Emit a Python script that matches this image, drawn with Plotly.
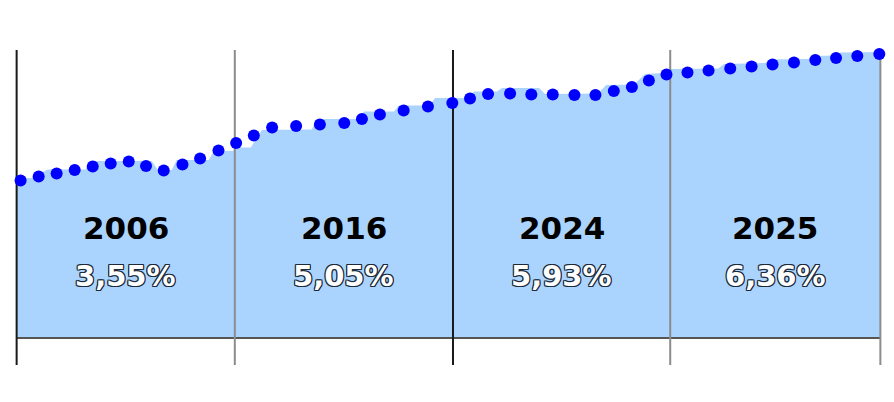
import plotly.graph_objects as go

# Dotted series (position on a 0-100 timeline, value)
dot_x = [0.46, 2.55, 4.63, 6.72, 8.81, 10.89, 12.98, 14.98, 17.03, 19.20, 21.24, 23.37,
         25.41, 27.46, 29.58, 32.36, 35.11, 37.93, 39.98, 42.06, 44.81, 47.62,
         50.44, 52.49, 54.58, 57.13, 59.59, 62.07, 64.58, 67.01, 69.14, 71.23, 73.20,
         75.24, 77.67, 80.11, 82.62, 85.09, 87.52, 90.00, 92.47, 94.87, 97.33, 99.88]
dot_y = [3.15, 3.23, 3.29, 3.36, 3.43, 3.49, 3.53, 3.44, 3.35, 3.47, 3.59, 3.75,
         3.90, 4.05, 4.21, 4.24, 4.27, 4.30, 4.38, 4.47, 4.55, 4.63,
         4.70, 4.79, 4.88, 4.89, 4.87, 4.87, 4.86, 4.86, 4.94, 5.02, 5.15,
         5.27, 5.31, 5.35, 5.39, 5.43, 5.47, 5.51, 5.56, 5.60, 5.64, 5.68]

# Filled area series
area_x = [0, 1.74, 3.59, 8.00, 8.46, 15.64, 16.34, 17.96, 18.54, 22.25, 22.83, 25.03,
          25.38, 27.11, 28.39, 34.18, 34.76, 39.63, 40.21, 43.68, 44.26, 47.86, 48.44,
          52.26, 52.95, 55.62, 56.20, 60.49, 61.18, 67.32, 68.25, 71.49, 72.77, 74.97,
          75.78, 81.23, 81.92, 86.67, 87.25, 91.66, 92.24, 94.90, 95.36, 100]
area_y = [3.20, 3.20, 3.37, 3.37, 3.54, 3.54, 3.36, 3.36, 3.56, 3.56, 3.74, 3.74,
          3.81, 3.81, 4.16, 4.17, 4.38, 4.38, 4.53, 4.53, 4.65, 4.65, 4.80,
          4.80, 4.93, 4.93, 5.00, 5.00, 4.88, 4.89, 5.06, 5.07, 5.28, 5.30,
          5.38, 5.39, 5.48, 5.50, 5.57, 5.58, 5.64, 5.65, 5.71, 5.72]

boundaries = [0, 25.26, 50.52, 75.67, 100]
boundary_colors = ["#1a1a1a", "#8c8c8c", "#1a1a1a", "#8c8c8c", "#8c8c8c"]
years = ["2006", "2016", "2024", "2025"]
rates = ["3,55%", "5,05%", "5,93%", "6,36%"]

fig = go.Figure()

fig.add_trace(go.Scatter(x=area_x, y=area_y, mode="lines", fill="tozeroy",
                         fillcolor="#aad4fe", line=dict(width=0, color="#aad4fe"),
                         hoverinfo="skip"))

fig.add_trace(go.Scatter(x=[boundaries[0], boundaries[-1]], y=[0, 0], mode="lines",
                         line=dict(color="#555555", width=2), hoverinfo="skip"))

for b, c in zip(boundaries, boundary_colors):
    fig.add_trace(go.Scatter(x=[b, b], y=[5.76, -0.54], mode="lines",
                             line=dict(color=c, width=2), hoverinfo="skip"))

fig.add_trace(go.Scatter(x=dot_x, y=dot_y, mode="markers",
                         marker=dict(color="#0000ff", size=12, line=dict(width=0)),
                         cliponaxis=False, hoverinfo="skip"))

oc = "#1c2a3a"
outline = ", ".join(f"{dx}px {dy}px 0 {oc}" for dx, dy in
                    [(-1, -1), (1, -1), (-1, 1), (1, 1), (0, -1), (0, 1), (-1, 0), (1, 0)])

for i in range(len(years)):
    cx = (boundaries[i] + boundaries[i + 1]) / 2
    fig.add_annotation(x=cx, y=2.2, text=years[i], showarrow=False,
                       font=dict(family="DejaVu Sans", size=31, color="#000000", weight="bold"))
    fig.add_annotation(x=cx, y=1.24, text=rates[i], showarrow=False,
                       font=dict(family="DejaVu Sans", size=29, color="#ffffff", weight="bold",
                                 shadow=outline))

fig.update_layout(
    width=894, height=402,
    margin=dict(l=8.37, r=5.37, t=38, b=37, pad=0),
    paper_bgcolor="white", plot_bgcolor="white",
    showlegend=False, hovermode=False,
    xaxis=dict(range=[-1, 101], visible=False, fixedrange=True),
    yaxis=dict(range=[-0.54, 6.0], visible=False, fixedrange=True),
)

fig.write_html("out.html", config={"displayModeBar": False},
               post_script="document.body.style.margin='0';document.body.style.padding='0';")
